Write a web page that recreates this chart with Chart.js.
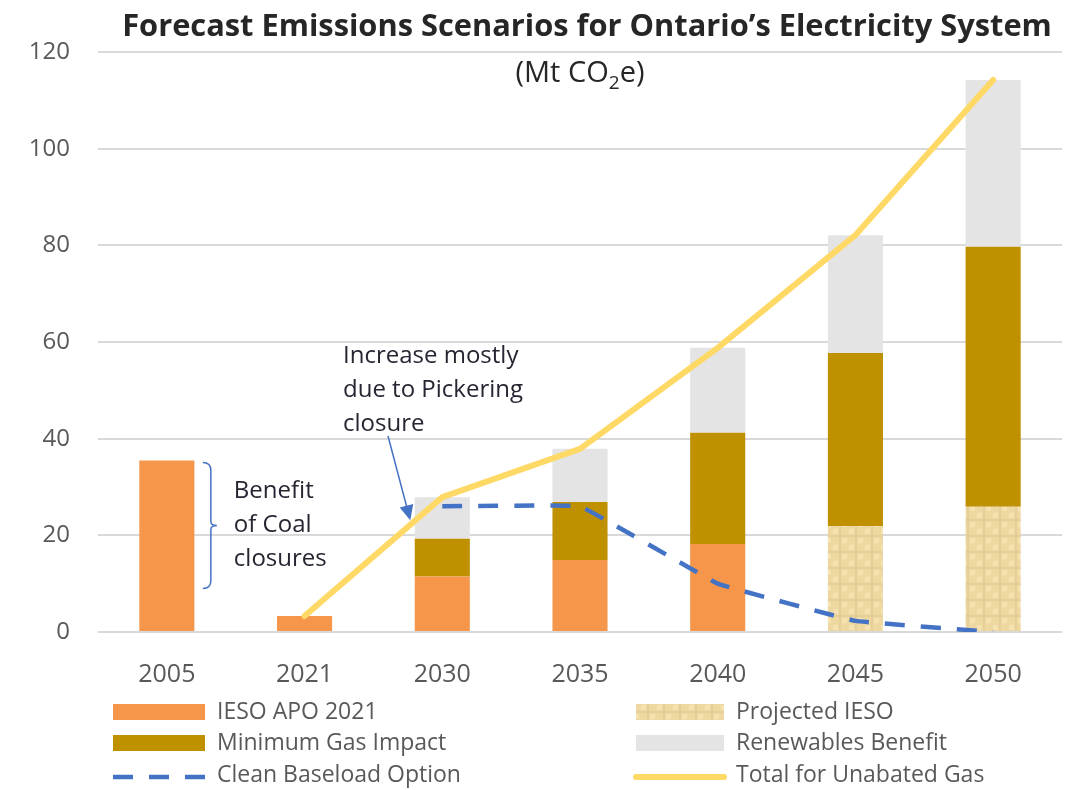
<!DOCTYPE html>
<html>
<head>
<meta charset="utf-8">
<title>Forecast Emissions Scenarios</title>
<script src="https://cdn.jsdelivr.net/npm/chart.js@4.4.1/dist/chart.umd.min.js"></script>
<style>
  html, body { margin: 0; padding: 0; background: #fff; }
  #wrap { width: 1079px; height: 790px; position: relative; }
</style>
</head>
<body>
<div id="wrap"><canvas id="chart"></canvas></div>
<script>
// Years on the x axis
const years = ['2005', '2021', '2030', '2035', '2040', '2045', '2050'];

// Stacked bar pieces (Mt CO2e)
const iesoApo = [35.5, 3.3, 11.5, 14.9, 18.2, null, null];
const projectedIeso = [null, null, null, null, null, 21.9, 25.9];
const minGasImpact = [null, null, 7.8, 12.0, 23.0, 35.8, 53.8];
const renewablesBenefit = [null, null, 8.6, 11.0, 17.6, 24.4, 34.5];

// Line series
const cleanBaseload = [null, null, 26, 26, 10, 2.3, 0];
const totalUnabatedGas = [null, 3.3, 27.9, 37.9, 58.8, 82.1, 114.2];

const yTicks = [0, 20, 40, 60, 80, 100, 120];

const FONT = "'Open Sans', 'Noto Sans', sans-serif";
const TEXT_GREY = '#595959';
const NOTE_COLOR = '#262633';
const BLUE = '#4472C4';

// Soft beige check texture for the projected segments
function makeTexture() {
    const c = document.createElement('canvas');
    c.width = 16; c.height = 16;
    const g = c.getContext('2d');
    g.fillStyle = '#eed8a2';
    g.fillRect(0, 0, 16, 16);
    g.fillStyle = 'rgba(185,150,85,0.13)';
    g.fillRect(0, 7, 16, 2);
    g.fillRect(7, 0, 2, 16);
    g.fillStyle = 'rgba(255,238,195,0.45)';
    g.fillRect(1, 1, 5, 5);
    g.fillRect(10, 10, 5, 5);
    return g.createPattern(c, 'repeat');
}
const texture = makeTexture();

// shrink-to-width text helper for the heading
function fitFont(ctx, text, weight, maxSize, width) {
    ctx.font = weight + ' ' + maxSize + 'px ' + FONT;
    const w = ctx.measureText(text).width;
    const size = Math.min(maxSize, maxSize * width / w);
    ctx.font = weight + ' ' + size + 'px ' + FONT;
}

// Title, subtitle, notes and legend drawn on the canvas
const decorations = {
    id: 'decorations',
    afterDraw(chart) {
        const ctx = chart.ctx;
        const x = chart.scales.x;
        const y = chart.scales.y;
        ctx.save();

        // title
        const title = 'Forecast Emissions Scenarios for Ontario\u2019s Electricity System';
        ctx.fillStyle = '#262626';
        ctx.textAlign = 'center';
        ctx.textBaseline = 'alphabetic';
        fitFont(ctx, title, 'bold', 31, 930);
        ctx.fillText(title, 587, 36);

        // subtitle with subscript
        ctx.font = '29px ' + FONT;
        const a = '(Mt CO', b = '2', c = 'e)';
        const wa = ctx.measureText(a).width;
        const wc = ctx.measureText(c).width;
        ctx.font = '19px ' + FONT;
        const wb = ctx.measureText(b).width;
        let sx = 580 - (wa + wb + wc) / 2;
        ctx.textAlign = 'left';
        ctx.font = '29px ' + FONT;
        ctx.fillText(a, sx, 82);
        ctx.font = '19px ' + FONT;
        ctx.fillText(b, sx + wa, 89);
        ctx.font = '29px ' + FONT;
        ctx.fillText(c, sx + wa + wb, 82);

        // bracket next to the 2005 bar
        const bx = x.getPixelForValue(0) + 36;
        const top = y.getPixelForValue(iesoApo[0]) + 2;
        const bot = y.getPixelForValue(9);
        const mid = (top + bot) / 2;
        ctx.strokeStyle = BLUE;
        ctx.lineWidth = 1.5;
        ctx.beginPath();
        ctx.moveTo(bx, top);
        ctx.quadraticCurveTo(bx + 8, top, bx + 8, top + 8);
        ctx.lineTo(bx + 8, mid - 4);
        ctx.quadraticCurveTo(bx + 8, mid, bx + 14, mid);
        ctx.quadraticCurveTo(bx + 8, mid, bx + 8, mid + 4);
        ctx.lineTo(bx + 8, bot - 8);
        ctx.quadraticCurveTo(bx + 8, bot, bx, bot);
        ctx.stroke();

        ctx.fillStyle = NOTE_COLOR;
        ctx.font = '24px ' + FONT;
        ctx.textBaseline = 'middle';
        ctx.fillText('Benefit', bx + 31, mid - 34);
        ctx.fillText('of Coal', bx + 31, mid);
        ctx.fillText('closures', bx + 31, mid + 34);

        // Pickering note with arrow
        ctx.fillText('Increase mostly', 343, 356);
        ctx.fillText('due to Pickering', 343, 390);
        ctx.fillText('closure', 343, 424);
        const ax0 = 388, ay0 = 436;
        const ax1 = x.getPixelForValue(2) - 32, ay1 = y.getPixelForValue(cleanBaseload[2]) + 14;
        const ang = Math.atan2(ay1 - ay0, ax1 - ax0);
        ctx.beginPath();
        ctx.moveTo(ax0, ay0);
        ctx.lineTo(ax1 - 12 * Math.cos(ang), ay1 - 12 * Math.sin(ang));
        ctx.stroke();
        ctx.fillStyle = BLUE;
        ctx.beginPath();
        ctx.moveTo(ax1, ay1);
        ctx.lineTo(ax1 - 15 * Math.cos(ang) + 7 * Math.sin(ang), ay1 - 15 * Math.sin(ang) - 7 * Math.cos(ang));
        ctx.lineTo(ax1 - 15 * Math.cos(ang) - 7 * Math.sin(ang), ay1 - 15 * Math.sin(ang) + 7 * Math.cos(ang));
        ctx.closePath();
        ctx.fill();

        // legend, two columns
        const ds = chart.data.datasets;
        const items = [
            [ds[0], 113, 712], [ds[1], 636, 712],
            [ds[2], 113, 743], [ds[3], 636, 743],
            [ds[4], 113, 775], [ds[5], 636, 775]
        ];
        ctx.font = '23px ' + FONT;
        ctx.textBaseline = 'middle';
        items.forEach(([d, lx, ly]) => {
            const w = lx < 400 ? 92 : 88;
            if (d.type === 'line') {
                ctx.save();
                ctx.strokeStyle = d.borderColor;
                ctx.lineWidth = d.borderWidth;
                ctx.lineCap = d.borderDash ? 'butt' : 'round';
                if (d.borderDash) ctx.setLineDash(d.borderDash);
                ctx.beginPath();
                ctx.moveTo(lx, ly + 2);
                ctx.lineTo(lx + w, ly + 2);
                ctx.stroke();
                ctx.restore();
            } else {
                ctx.fillStyle = d.backgroundColor;
                ctx.fillRect(lx, ly - 8, w, 16);
            }
            ctx.fillStyle = TEXT_GREY;
            ctx.fillText(d.label, lx + w + 12, ly);
        });

        ctx.restore();
    }
};

const ctx = document.getElementById('chart').getContext('2d');
new Chart(ctx, {
    data: {
        labels: years,
        datasets: [
            { type: 'bar', label: 'IESO APO 2021', data: iesoApo, backgroundColor: '#F5964A', stack: 'bars', order: 2 },
            { type: 'bar', label: 'Projected IESO', data: projectedIeso, backgroundColor: texture, stack: 'bars', order: 2 },
            { type: 'bar', label: 'Minimum Gas Impact', data: minGasImpact, backgroundColor: '#BF9000', stack: 'bars', order: 2 },
            { type: 'bar', label: 'Renewables Benefit', data: renewablesBenefit, backgroundColor: '#E4E4E4', stack: 'bars', order: 2 },
            {
                type: 'line', label: 'Clean Baseload Option', data: cleanBaseload,
                borderColor: BLUE, borderWidth: 4.5, borderDash: [20, 16],
                pointRadius: 0, fill: false, stack: 'clean', order: 1, tension: 0.05
            },
            {
                type: 'line', label: 'Total for Unabated Gas', data: totalUnabatedGas,
                borderColor: '#FFD966', borderWidth: 6, borderCapStyle: 'round',
                pointRadius: 0, fill: false, stack: 'total', order: 0, tension: 0
            }
        ]
    },
    options: {
        responsive: true,
        maintainAspectRatio: false,
        animation: false,
        layout: { padding: { left: 20, right: 17, top: 52, bottom: 100 } },
        datasets: { bar: { barPercentage: 1, categoryPercentage: 0.4 } },
        plugins: {
            legend: { display: false },
            tooltip: { enabled: false }
        },
        scales: {
            x: {
                stacked: true,
                grid: { display: false },
                border: { display: false },
                ticks: { color: TEXT_GREY, font: { family: FONT, size: 25 }, padding: 20 },
                afterFit(scale) { scale.height = 58; }
            },
            y: {
                stacked: true,
                min: 0,
                max: 120,
                afterBuildTicks(scale) { scale.ticks = yTicks.map(v => ({ value: v })); },
                grid: { color: '#D9D9D9', lineWidth: 2, drawTicks: false },
                border: { display: false },
                ticks: { color: TEXT_GREY, font: { family: FONT, size: 24 }, padding: 28 },
                afterFit(scale) { scale.width = 78; }
            }
        }
    },
    plugins: [decorations]
});
</script>
</body>
</html>
